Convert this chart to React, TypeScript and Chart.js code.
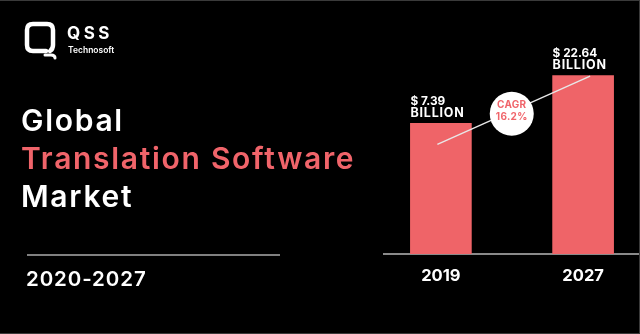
import React, { useEffect, useRef } from "react";
import { Chart, registerables } from "chart.js";

Chart.register(...registerables);

// ---- data ----
const categories = [2019, 2027];
const values = [7.39, 22.64];
const valuePrefix = "$ ";
const valueUnit = "BILLION";
const cagrLabel = "CAGR";
const cagrValue = "16.2%";
const titleLines = ["Global", "Translation Software", "Market"];
const periodLabel = "2020-2027";

const BAR = "#ef6468";
const PINK = "#f0646a";
const FONT = "Inter, 'Open Sans', sans-serif";

const annotPlugin = {
  id: "annot",
  afterDatasetsDraw(chart: any) {
    const ctx = chart.ctx;
    const bars = chart.getDatasetMeta(0).data;
    ctx.save();
    // CAGR connector line
    const b0 = bars[0];
    const b1 = bars[1];
    const x0 = b0.x - 3.5;
    const y0 = b0.y + 21;
    const x1 = b1.x + 7;
    const y1 = b1.y + 0.5;
    ctx.strokeStyle = "#e8e8e8";
    ctx.lineWidth = 1.4;
    ctx.beginPath();
    ctx.moveTo(x0, y0);
    ctx.lineTo(x1, y1);
    ctx.stroke();
    const cx = (x0 + x1) / 2 - 2;
    const cy = (y0 + y1) / 2 + 3.5;
    ctx.fillStyle = "#ffffff";
    ctx.beginPath();
    ctx.arc(cx, cy, 22, 0, Math.PI * 2);
    ctx.fill();
    ctx.fillStyle = PINK;
    ctx.font = `700 10px ${FONT}`;
    ctx.textAlign = "center";
    ctx.textBaseline = "middle";
    try { ctx.letterSpacing = "0.3px"; } catch (e) {}
    ctx.fillText(cagrLabel, cx, cy - 8.5);
    ctx.fillText(cagrValue, cx, cy + 3.5);
    // value labels
    ctx.fillStyle = "#ffffff";
    ctx.textAlign = "left";
    bars.forEach((b: any, i: number) => {
      const left = b.x - b.width / 2;
      ctx.font = `700 11.8px ${FONT}`;
      try { ctx.letterSpacing = "0px"; } catch (e) {}
      ctx.fillText(valuePrefix + values[i].toFixed(2), left, b.y - 22);
      ctx.font = `700 12.5px ${FONT}`;
      try { ctx.letterSpacing = "0.8px"; } catch (e) {}
      ctx.fillText(valueUnit, left, b.y - 10);
    });
    ctx.restore();
  },
};

function ChartCanvas() {
  const ref = useRef<HTMLCanvasElement>(null);
  useEffect(() => {
    const chart = new Chart(ref.current as HTMLCanvasElement, {
      type: "bar",
      data: {
        datasets: [
          {
            data: categories.map((c, i) => ({ x: c, y: values[i] })) as any,
            backgroundColor: BAR,
            barThickness: 61,
            borderWidth: 0,
          },
        ],
      },
      options: {
        animation: false,
        responsive: false,
        layout: { padding: { left: 384, top: 40, right: 0, bottom: 0 } },
        plugins: { legend: { display: false }, tooltip: { enabled: false } },
        scales: {
          x: {
            type: "linear",
            min: 2015.8,
            max: 2030.2,
            offset: false,
            grid: { display: false, drawTicks: false },
            border: { display: true, color: "#8a8a8a", width: 2 },
            afterBuildTicks: (s: any) => {
              s.ticks = categories.map((v) => ({ value: v }));
            },
            afterFit: (s: any) => {
              s.height = 80;
            },
            ticks: {
              autoSkip: false,
              maxRotation: 0,
              padding: 12,
              color: "#ffffff",
              font: { family: FONT, size: 16.5, weight: "bold" },
              callback: (v: any) => String(v),
            },
          },
          y: {
            type: "logarithmic",
            display: false,
            bounds: "data",
            min: 0.342,
            max: 52.4,
          },
        },
      },
      plugins: [annotPlugin],
    } as any);
    return () => chart.destroy();
  }, []);
  return (
    <canvas
      ref={ref}
      width={640}
      height={334}
      style={{ position: "absolute", left: 0, top: 0, width: 640, height: 334 }}
    />
  );
}

export default function App() {
  return (
    <div
      style={{
        position: "fixed",
        left: 0,
        top: 0,
        width: 640,
        height: 334,
        background: "#000",
        overflow: "hidden",
        fontFamily: FONT,
      }}
    >
      <ChartCanvas />
      {/* logo */}
      <svg
        width={40}
        height={44}
        viewBox="0 0 40 44"
        style={{ position: "absolute", left: 20, top: 18 }}
      >
        <path
          d="M26 33 H13 Q7 33 7 27 V12 Q7 6 13 6 H27 Q33 6 33 12 V27 Q33 31 30 33"
          fill="none"
          stroke="#fff"
          strokeWidth={4.5}
          strokeLinecap="round"
        />
        <path d="M25 37 H31 Q35 37 35 40" fill="none" stroke="#fff" strokeWidth={3} strokeLinecap="round" />
      </svg>
      <div
        style={{
          position: "absolute",
          left: 67,
          top: 23,
          color: "#fff",
          fontWeight: 700,
          fontSize: 17,
          letterSpacing: 3.5,
          lineHeight: "20px",
        }}
      >
        QSS
      </div>
      <div
        style={{
          position: "absolute",
          left: 68,
          top: 44,
          color: "#fff",
          fontWeight: 600,
          fontSize: 8.5,
          lineHeight: "12px",
        }}
      >
        Technosoft
      </div>
      {/* title */}
      <div
        style={{
          position: "absolute",
          left: 21,
          top: 101,
          fontSize: 30,
          fontWeight: 600,
          letterSpacing: 1.7,
          lineHeight: "38px",
          whiteSpace: "nowrap",
        }}
      >
        {titleLines.map((t, i) => (
          <div key={i} style={{ color: i === 1 ? PINK : "#fff" }}>
            {t}
          </div>
        ))}
      </div>
      <div
        style={{
          position: "absolute",
          left: 27,
          top: 254,
          width: 253,
          height: 1.5,
          background: "#808080",
        }}
      />
      <div
        style={{
          position: "absolute",
          left: 26,
          top: 267,
          color: "#fff",
          fontSize: 20.5,
          fontWeight: 600,
          letterSpacing: 0.9,
          lineHeight: "24px",
        }}
      >
        {periodLabel}
      </div>
      <div
        style={{
          position: "absolute",
          left: 0,
          top: 0,
          width: 640,
          height: 334,
          boxSizing: "border-box",
          borderTop: "1px solid #3a3a3a",
          borderRight: "1px solid #3a3a3a",
          borderBottom: "1px solid #3a3a3a",
          pointerEvents: "none",
        }}
      />
    </div>
  );
}
